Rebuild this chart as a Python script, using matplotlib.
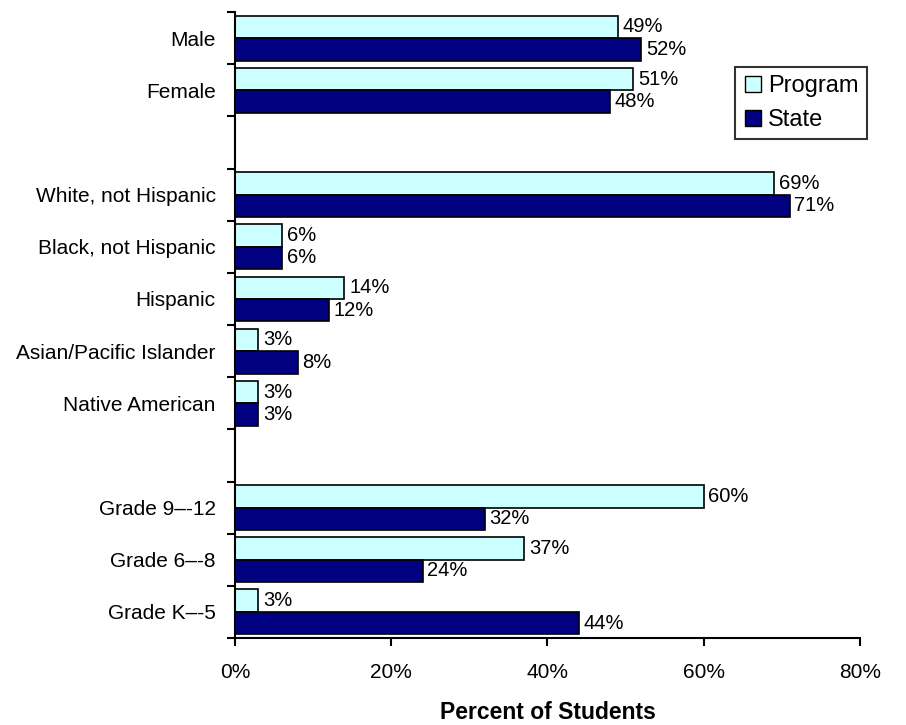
import matplotlib
matplotlib.use('Agg')
import matplotlib.pyplot as plt
from matplotlib.lines import Line2D
import numpy as np

plt.rcParams['font.family'] = ['Liberation Sans', 'DejaVu Sans']

# one slot per row, None marks an empty spacer row between groups
categories = ["Male", "Female", None,
              "White, not Hispanic", "Black, not Hispanic", "Hispanic",
              "Asian/Pacific Islander", "Native American", None,
              "Grade 9\u2013-12", "Grade 6\u2013-8", "Grade K\u2013-5"]
program = [49, 51, None, 69, 6, 14, 3, 3, None, 60, 37, 3]
state = [52, 48, None, 71, 6, 12, 8, 3, None, 32, 24, 44]

PROGRAM_COLOR = "#CCFFFF"
STATE_COLOR = "#000080"

fig = plt.figure(figsize=(9.06, 7.25), dpi=100)
ax = fig.add_axes([0.2594, 0.12, 0.6898, 0.8634])

n = len(categories)
h = 0.43
for i, (p, s) in enumerate(zip(program, state)):
    if p is None:
        continue
    ax.barh(i + 0.285, p, height=h, color=PROGRAM_COLOR, edgecolor="black", linewidth=1.2)
    ax.barh(i + 0.715, s, height=h, color=STATE_COLOR, edgecolor="black", linewidth=1.2)
    ax.text(p + 0.6, i + 0.285, f"{p}%", va="center", ha="left", fontsize=14.5)
    ax.text(s + 0.6, i + 0.715, f"{s}%", va="center", ha="left", fontsize=14.5)

ax.set_ylim(n, 0)
ax.set_xlim(0, 80)

ax.set_yticks(np.arange(n + 1))
ax.set_yticklabels([])
ax.set_yticks(np.arange(n) + 0.5, minor=True)
ax.set_yticklabels([c if c else "" for c in categories], minor=True, fontsize=15)
ax.tick_params(axis="y", which="major", length=6, width=1.5, direction="out")
ax.tick_params(axis="y", which="minor", length=0, pad=14)

ax.set_xticks([0, 20, 40, 60, 80])
ax.set_xticklabels(["0%", "20%", "40%", "60%", "80%"], fontsize=15)
ax.tick_params(axis="x", length=6, width=1.5, direction="out", pad=12)
ax.set_xlabel("Percent of Students", fontsize=16.5, fontweight="bold", labelpad=14)

for side in ("top", "right"):
    ax.spines[side].set_visible(False)
for side in ("left", "bottom"):
    ax.spines[side].set_linewidth(1.5)

handles = [
    Line2D([], [], marker="s", linestyle="none", markersize=12,
           markerfacecolor=PROGRAM_COLOR, markeredgecolor="black", label="Program"),
    Line2D([], [], marker="s", linestyle="none", markersize=12,
           markerfacecolor=STATE_COLOR, markeredgecolor="black", label="State"),
]
leg = ax.legend(handles=handles, loc="upper left", bbox_to_anchor=(0.8, 0.912),
                fontsize=17, frameon=True, fancybox=False, edgecolor="black",
                handlelength=0.8, handletextpad=0.25, borderpad=0.35, labelspacing=0.5,
                borderaxespad=0)
leg.get_frame().set_linewidth(1.5)

fig.savefig("out.png", dpi=100)
